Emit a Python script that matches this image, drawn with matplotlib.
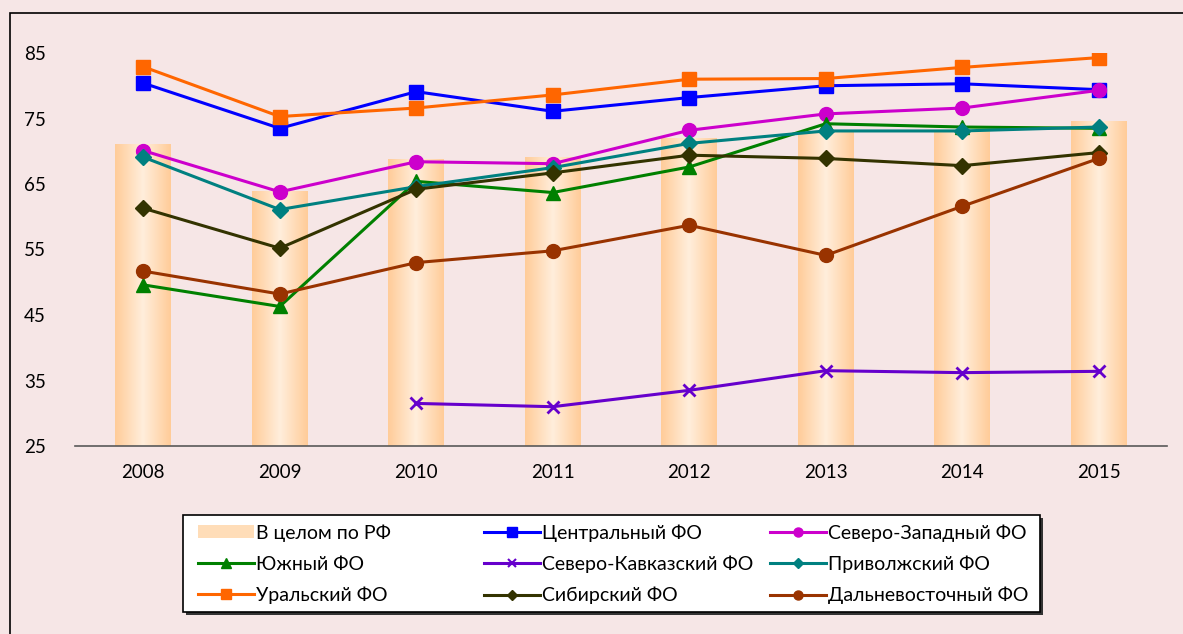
import numpy as np
import matplotlib
matplotlib.use("Agg")
import matplotlib.pyplot as plt
from matplotlib.patches import Rectangle
from matplotlib.lines import Line2D

years = ["2008", "2009", "2010", "2011", "2012", "2013", "2014", "2015"]
russia = [71.0, 63.8, 68.8, 69.0, 72.0, 73.0, 73.0, 74.5]
central = [80.4, 73.5, 79.1, 76.1, 78.2, 80.0, 80.3, 79.4]
northwest = [70.1, 63.8, 68.4, 68.1, 73.2, 75.7, 76.6, 79.3]
south = [49.6, 46.3, 65.4, 63.7, 67.6, 74.2, 73.7, 73.5]
ncaucasus = [np.nan, np.nan, 31.5, 31.0, 33.5, 36.5, 36.2, 36.4]
volga = [69.1, 61.1, 64.6, 67.5, 71.2, 73.1, 73.1, 73.7]
ural = [82.9, 75.3, 76.6, 78.6, 81.0, 81.1, 82.8, 84.3]
siberia = [61.3, 55.2, 64.2, 66.7, 69.4, 68.9, 67.8, 69.8]
fareast = [51.7, 48.2, 53.0, 54.8, 58.7, 54.1, 61.6, 68.9]

series = [
    ("Центральный ФО", central, "#0000FF", "s", 10),
    ("Северо-Западный ФО", northwest, "#CC00CC", "o", 10),
    ("Южный ФО", south, "#008000", "^", 10),
    ("Северо-Кавказский ФО", ncaucasus, "#6600CC", "x", 9),
    ("Приволжский ФО", volga, "#008080", "D", 8),
    ("Уральский ФО", ural, "#FF6600", "s", 10),
    ("Сибирский ФО", siberia, "#333300", "D", 8),
    ("Дальневосточный ФО", fareast, "#993300", "o", 10),
]

BG = "#F6E6E6"
plt.rcParams["font.family"] = ["Lato", "DejaVu Sans"]
plt.rcParams["font.size"] = 13.5

W, H = 1183, 634
fig = plt.figure(figsize=(W / 100, H / 100), dpi=100, facecolor=BG)
ax = fig.add_axes([75 / W, 1 - 446 / H, (1167 - 75) / W, (446 - 53) / H])
ax.set_facecolor("none")

# outer chart border (runs off the right and bottom of the crop)
fig.patches.append(Rectangle((10 / W, -0.1), 1.2, 1 - 13 / H + 0.1, transform=fig.transFigure,
                             fill=False, ec="black", lw=1.2, zorder=0))

x = np.arange(len(years))
bars = ax.bar(x, russia, width=0.41, bottom=0, color="#FFD9B0", zorder=1)
# horizontal gradient inside each bar
edge = np.array([255, 204, 153]) / 255
mid = np.array([255, 238, 220]) / 255
t = np.abs(np.linspace(-1, 1, 64))
grad = (mid[None, :] * (1 - t[:, None]) + edge[None, :] * t[:, None])[None, :, :]
for b in bars:
    b.set_visible(False)
    ax.imshow(grad, extent=(b.get_x(), b.get_x() + b.get_width(), 25, b.get_height()),
              aspect="auto", zorder=1, interpolation="bilinear")
ax.set_xlim(-0.5, len(years) - 0.5)
ax.set_ylim(25, 85)

for name, vals, col, mk, ms in series:
    ax.plot(x, vals, color=col, lw=2.2, marker=mk, ms=ms, mew=2 if mk == "x" else 1,
            mec=col, mfc=col, zorder=3)

ax.set_yticks([25, 35, 45, 55, 65, 75, 85])
ax.set_xticks(x, years)
ax.tick_params(axis="both", length=0)
ax.tick_params(axis="y", pad=21)
ax.tick_params(axis="x", pad=13)
for s in ["top", "right", "left"]:
    ax.spines[s].set_visible(False)
ax.spines["bottom"].set_color("#595959")
ax.spines["bottom"].set_linewidth(1.2)

# legend box with shadow
lx0, ly0, lx1, ly1 = 183, 515, 1040, 612
fig.patches.append(Rectangle(((lx0 + 3) / W, 1 - (ly1 + 3) / H), (lx1 - lx0) / W, (ly1 - ly0) / H,
                             transform=fig.transFigure, fc="#333333", ec="none", zorder=5))
fig.patches.append(Rectangle((lx0 / W, 1 - ly1 / H), (lx1 - lx0) / W, (ly1 - ly0) / H,
                             transform=fig.transFigure, fc="white", ec="black", lw=1.2, zorder=6))


def handle(col, mk, ms):
    return Line2D([], [], color=col, lw=2.2, marker=mk, ms=ms, mec=col, mfc=col, mew=1.5 if mk == "x" else 1)


bar_h = Rectangle((0, 0), 1, 1, fc="#FFDDB8", ec="none")
h = {name: handle(col, mk, ms * 0.65) for name, _, col, mk, ms in series}
cols = [
    (198, [(bar_h, "В целом по РФ"), (h["Южный ФО"], "Южный ФО"), (h["Уральский ФО"], "Уральский ФО")]),
    (484, [(h["Центральный ФО"], "Центральный ФО"), (h["Северо-Кавказский ФО"], "Северо-Кавказский ФО"),
           (h["Сибирский ФО"], "Сибирский ФО")]),
    (770, [(h["Северо-Западный ФО"], "Северо-Западный ФО"), (h["Приволжский ФО"], "Приволжский ФО"),
           (h["Дальневосточный ФО"], "Дальневосточный ФО")]),
]
for cx, items in cols:
    lg = fig.legend([i[0] for i in items], [i[1] for i in items], loc="upper left",
                    bbox_to_anchor=(cx / W, 1 - 524 / H), frameon=False, borderpad=0, borderaxespad=0,
                    handlelength=2.9, handletextpad=0.1, labelspacing=0.72, handleheight=0.6,
                    fontsize=14)
    lg.set_zorder(7)

fig.savefig("out.png", dpi=100, facecolor=BG)
